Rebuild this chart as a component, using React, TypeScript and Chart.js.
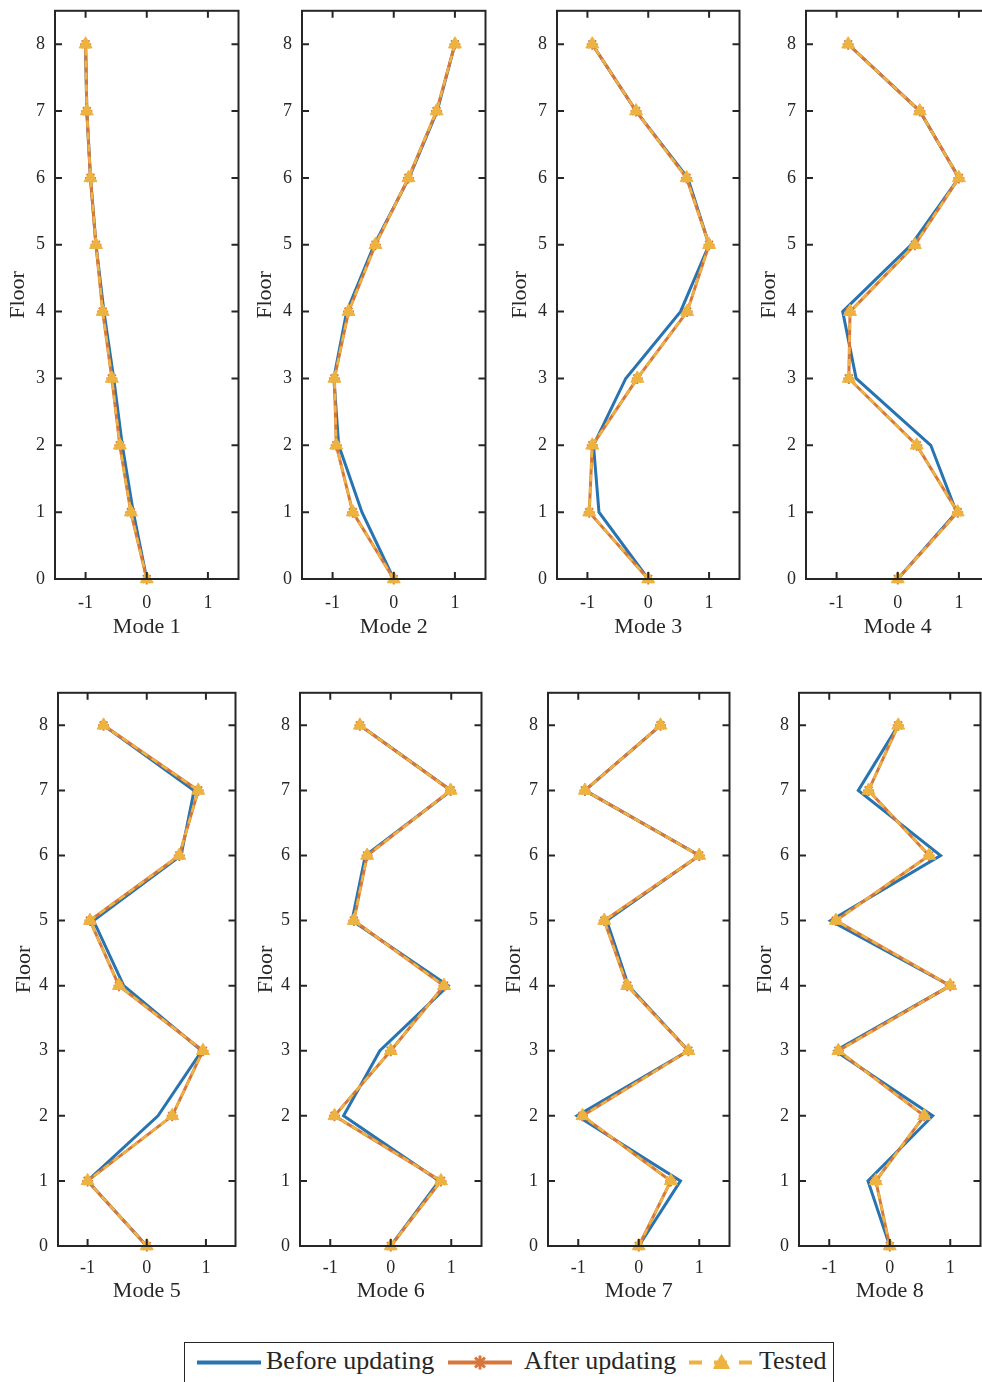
import { useEffect, useRef } from 'react';
import { Chart, registerables } from 'chart.js';

Chart.register(...registerables);

// Floors 0..8 and the shared tick marks of every panel
const FLOORS = [0, 1, 2, 3, 4, 5, 6, 7, 8];
const X_TICKS = [-1, 0, 1];
const Y_TICKS = [0, 1, 2, 3, 4, 5, 6, 7, 8];
const SERIES_LABELS = ['Before updating', 'After updating', 'Tested'];
const MODE_TITLES = ['Mode 1', 'Mode 2', 'Mode 3', 'Mode 4', 'Mode 5', 'Mode 6', 'Mode 7', 'Mode 8'];

// Normalised mode-shape ordinates, listed from floor 0 up to floor 8
const mode1Before = [0, -0.22, -0.40, -0.54, -0.70, -0.83, -0.92, -0.98, -1.0];
const mode1After = [0, -0.26, -0.44, -0.57, -0.72, -0.83, -0.92, -0.98, -1.0];
const mode1Tested = [0, -0.26, -0.44, -0.57, -0.72, -0.83, -0.92, -0.98, -1.0];

const mode2Before = [0, -0.52, -0.90, -0.98, -0.77, -0.32, 0.25, 0.71, 1.0];
const mode2After = [0, -0.67, -0.94, -0.97, -0.74, -0.30, 0.24, 0.70, 1.0];
const mode2Tested = [0, -0.67, -0.94, -0.97, -0.74, -0.30, 0.24, 0.70, 1.0];

const mode3Before = [0, -0.81, -0.90, -0.37, 0.53, 1.0, 0.65, -0.20, -0.92];
const mode3After = [0, -0.97, -0.92, -0.18, 0.64, 1.0, 0.63, -0.20, -0.92];
const mode3Tested = [0, -0.97, -0.92, -0.18, 0.64, 1.0, 0.63, -0.20, -0.92];

const mode4Before = [0, 0.96, 0.54, -0.68, -0.90, 0.22, 1.0, 0.36, -0.81];
const mode4After = [0, 0.98, 0.31, -0.80, -0.78, 0.28, 1.0, 0.36, -0.81];
const mode4Tested = [0, 0.98, 0.31, -0.80, -0.78, 0.28, 1.0, 0.36, -0.81];

const mode5Before = [0, -1.0, 0.19, 0.93, -0.39, -0.90, 0.58, 0.80, -0.73];
const mode5After = [0, -1.0, 0.43, 0.95, -0.47, -0.96, 0.55, 0.87, -0.73];
const mode5Tested = [0, -1.0, 0.43, 0.95, -0.47, -0.96, 0.55, 0.87, -0.73];

const mode6Before = [0, 0.80, -0.78, -0.18, 0.95, -0.64, -0.42, 1.0, -0.51];
const mode6After = [0, 0.83, -0.93, 0.0, 0.88, -0.61, -0.39, 0.99, -0.51];
const mode6Tested = [0, 0.83, -0.93, 0.0, 0.88, -0.61, -0.39, 0.99, -0.51];

const mode7Before = [0, 0.69, -1.02, 0.82, -0.17, -0.53, 1.0, -0.89, 0.36];
const mode7After = [0, 0.53, -0.93, 0.82, -0.19, -0.57, 1.0, -0.89, 0.36];
const mode7Tested = [0, 0.53, -0.93, 0.82, -0.19, -0.57, 1.0, -0.89, 0.36];

const mode8Before = [0, -0.36, 0.71, -0.90, 1.0, -0.98, 0.84, -0.52, 0.14];
const mode8After = [0, -0.23, 0.57, -0.85, 1.0, -0.89, 0.65, -0.35, 0.14];
const mode8Tested = [0, -0.23, 0.57, -0.85, 1.0, -0.89, 0.65, -0.35, 0.14];

const BEFORE = [mode1Before, mode2Before, mode3Before, mode4Before, mode5Before, mode6Before, mode7Before, mode8Before];
const AFTER = [mode1After, mode2After, mode3After, mode4After, mode5After, mode6After, mode7After, mode8After];
const TESTED = [mode1Tested, mode2Tested, mode3Tested, mode4Tested, mode5Tested, mode6Tested, mode7Tested, mode8Tested];

// Styling
const FONT = "'Liberation Serif', 'Times New Roman', serif";
const INK = '#262626';
const BLUE = '#2774b0';
const ORANGE = '#d8773b';
const YELLOW = '#edb341';

// Plot-box placement of the 2 x 4 panel grid (page pixels)
type Box = { left: number; right: number; top: number; bottom: number; padL: number; padB: number; xTickPad: number };
const TOP_ROW = { top: 10, bottom: 579, padL: 54, padB: 61, xTickPad: 13 };
const BOTTOM_ROW = { top: 692, bottom: 1246, padL: 51, padB: 58, xTickPad: 11 };
const BOXES: Box[] = [
  { left: 55, right: 241, ...TOP_ROW },
  { left: 302, right: 488, ...TOP_ROW },
  { left: 557, right: 742, ...TOP_ROW },
  { left: 806, right: 992, ...TOP_ROW },
  { left: 58, right: 238, ...BOTTOM_ROW },
  { left: 300, right: 484, ...BOTTOM_ROW },
  { left: 548, right: 732, ...BOTTOM_ROW },
  { left: 799, right: 983, ...BOTTOM_ROW },
];
const PAD_T = 20;
const PAD_R = 6;
const TICK_LEN = 7;

const toPoints = (xs: number[]) => xs.map((x, i) => ({ x, y: FLOORS[i] }));

// Draws the closed axes box with inward tick marks on all four sides
const frameTicks = {
  id: 'frameTicks',
  afterDraw(chart: any) {
    const { ctx, chartArea: a, scales } = chart;
    ctx.save();
    ctx.strokeStyle = INK;
    ctx.lineWidth = 2;
    ctx.beginPath();
    X_TICKS.forEach((v) => {
      const px = scales.x.getPixelForValue(v);
      ctx.moveTo(px, a.bottom);
      ctx.lineTo(px, a.bottom - TICK_LEN);
      ctx.moveTo(px, a.top);
      ctx.lineTo(px, a.top + TICK_LEN);
    });
    Y_TICKS.forEach((v) => {
      const py = scales.y.getPixelForValue(v);
      ctx.moveTo(a.left, py);
      ctx.lineTo(a.left + TICK_LEN, py);
      ctx.moveTo(a.right, py);
      ctx.lineTo(a.right - TICK_LEN, py);
    });
    ctx.stroke();
    ctx.strokeRect(a.left, a.top, a.right - a.left, a.bottom - a.top);
    ctx.restore();
  },
};

function Panel({ index }: { index: number }) {
  const ref = useRef<HTMLCanvasElement>(null);
  const box = BOXES[index];
  const w = box.right - box.left + box.padL + PAD_R;
  const h = box.bottom - box.top + PAD_T + box.padB;

  useEffect(() => {
    if (!ref.current) return;
    const chart = new Chart(ref.current, {
      type: 'scatter',
      data: {
        datasets: [
          {
            label: SERIES_LABELS[0],
            data: toPoints(BEFORE[index]),
            showLine: true,
            borderColor: BLUE,
            borderWidth: 3,
            pointRadius: 0,
            clip: false,
            order: 3,
          },
          {
            label: SERIES_LABELS[1],
            data: toPoints(AFTER[index]),
            showLine: true,
            borderColor: ORANGE,
            borderWidth: 3,
            pointStyle: 'star',
            pointRadius: 5.5,
            pointBorderColor: ORANGE,
            pointBorderWidth: 2,
            clip: false,
            order: 2,
          },
          {
            label: SERIES_LABELS[2],
            data: toPoints(TESTED[index]),
            showLine: true,
            borderColor: YELLOW,
            borderWidth: 2.5,
            borderDash: [7, 5],
            pointStyle: 'triangle',
            pointRadius: 7.5,
            pointBackgroundColor: YELLOW,
            pointBorderColor: YELLOW,
            pointBorderWidth: 1,
            clip: false,
            order: 1,
          },
        ],
      } as any,
      options: {
        responsive: false,
        animation: false,
        events: [],
        layout: { padding: { top: PAD_T, right: PAD_R, left: 0, bottom: 0 } },
        plugins: { legend: { display: false }, tooltip: { enabled: false } },
        scales: {
          x: {
            type: 'linear',
            min: -1.5,
            max: 1.5,
            afterBuildTicks: (s: any) => {
              s.ticks = X_TICKS.map((value) => ({ value }));
            },
            afterFit: (s: any) => {
              s.height = box.padB;
            },
            grid: { display: false, drawTicks: false },
            border: { display: false },
            ticks: {
              autoSkip: false,
              maxRotation: 0,
              padding: box.xTickPad,
              color: INK,
              font: { family: FONT, size: 18 },
              callback: (v: any) => String(v),
            },
            title: {
              display: true,
              text: MODE_TITLES[index],
              color: INK,
              font: { family: FONT, size: 22 },
              padding: 0,
            },
          },
          y: {
            type: 'linear',
            min: 0,
            max: 8.5,
            afterBuildTicks: (s: any) => {
              s.ticks = Y_TICKS.map((value) => ({ value }));
            },
            afterFit: (s: any) => {
              s.width = box.padL;
            },
            grid: { display: false, drawTicks: false },
            border: { display: false },
            ticks: {
              autoSkip: false,
              padding: 10,
              color: INK,
              font: { family: FONT, size: 18 },
              callback: (v: any) => String(v),
            },
            title: {
              display: true,
              text: 'Floor',
              color: INK,
              font: { family: FONT, size: 22 },
              padding: { top: 4, bottom: 0 },
            },
          },
        },
      } as any,
      plugins: [frameTicks],
    });
    return () => chart.destroy();
  }, [index]);

  return (
    <canvas
      ref={ref}
      width={w}
      height={h}
      style={{ position: 'absolute', left: box.left - box.padL, top: box.top - PAD_T, width: w, height: h }}
    />
  );
}

function Legend() {
  const textStyle = (left: number) => ({
    position: 'absolute' as const,
    left,
    top: 5,
    fontFamily: FONT,
    fontSize: 26,
    lineHeight: '26px',
    color: INK,
    whiteSpace: 'nowrap' as const,
  });
  const cy = 19.5;
  const star = (cx: number, r: number) => {
    const d = r * 0.7071;
    return `M${cx - r},${cy}L${cx + r},${cy}M${cx},${cy - r}L${cx},${cy + r}M${cx - d},${cy - d}L${cx + d},${cy + d}M${cx - d},${cy + d}L${cx + d},${cy - d}`;
  };
  return (
    <div
      style={{
        position: 'absolute',
        left: 184,
        top: 1342,
        width: 650,
        height: 60,
        boxSizing: 'border-box',
        border: `1.5px solid ${INK}`,
        background: '#fff',
      }}
    >
      <svg width={650} height={60} style={{ position: 'absolute', left: 0, top: 0 }}>
        <line x1={12} y1={cy} x2={76} y2={cy} stroke={BLUE} strokeWidth={4} />
        <line x1={263} y1={cy} x2={327} y2={cy} stroke={ORANGE} strokeWidth={4} />
        <path d={star(295, 7)} stroke={ORANGE} strokeWidth={3} fill="none" />
        <line x1={504} y1={cy} x2={568} y2={cy} stroke={YELLOW} strokeWidth={4} strokeDasharray="13 12" />
        <path d={`M${528.5},${cy + 6}L${544.5},${cy + 6}L${536.5},${cy - 8}Z`} fill={YELLOW} stroke={YELLOW} strokeWidth={1} />
      </svg>
      <span style={textStyle(81)}>{SERIES_LABELS[0]}</span>
      <span style={textStyle(339)}>{SERIES_LABELS[1]}</span>
      <span style={textStyle(574)}>{SERIES_LABELS[2]}</span>
    </div>
  );
}

export default function App() {
  return (
    <div
      style={{
        position: 'absolute',
        left: 0,
        top: 0,
        width: 982,
        height: 1382,
        overflow: 'hidden',
        background: '#fff',
      }}
    >
      {BOXES.map((_, i) => (
        <Panel key={i} index={i} />
      ))}
      <Legend />
    </div>
  );
}
